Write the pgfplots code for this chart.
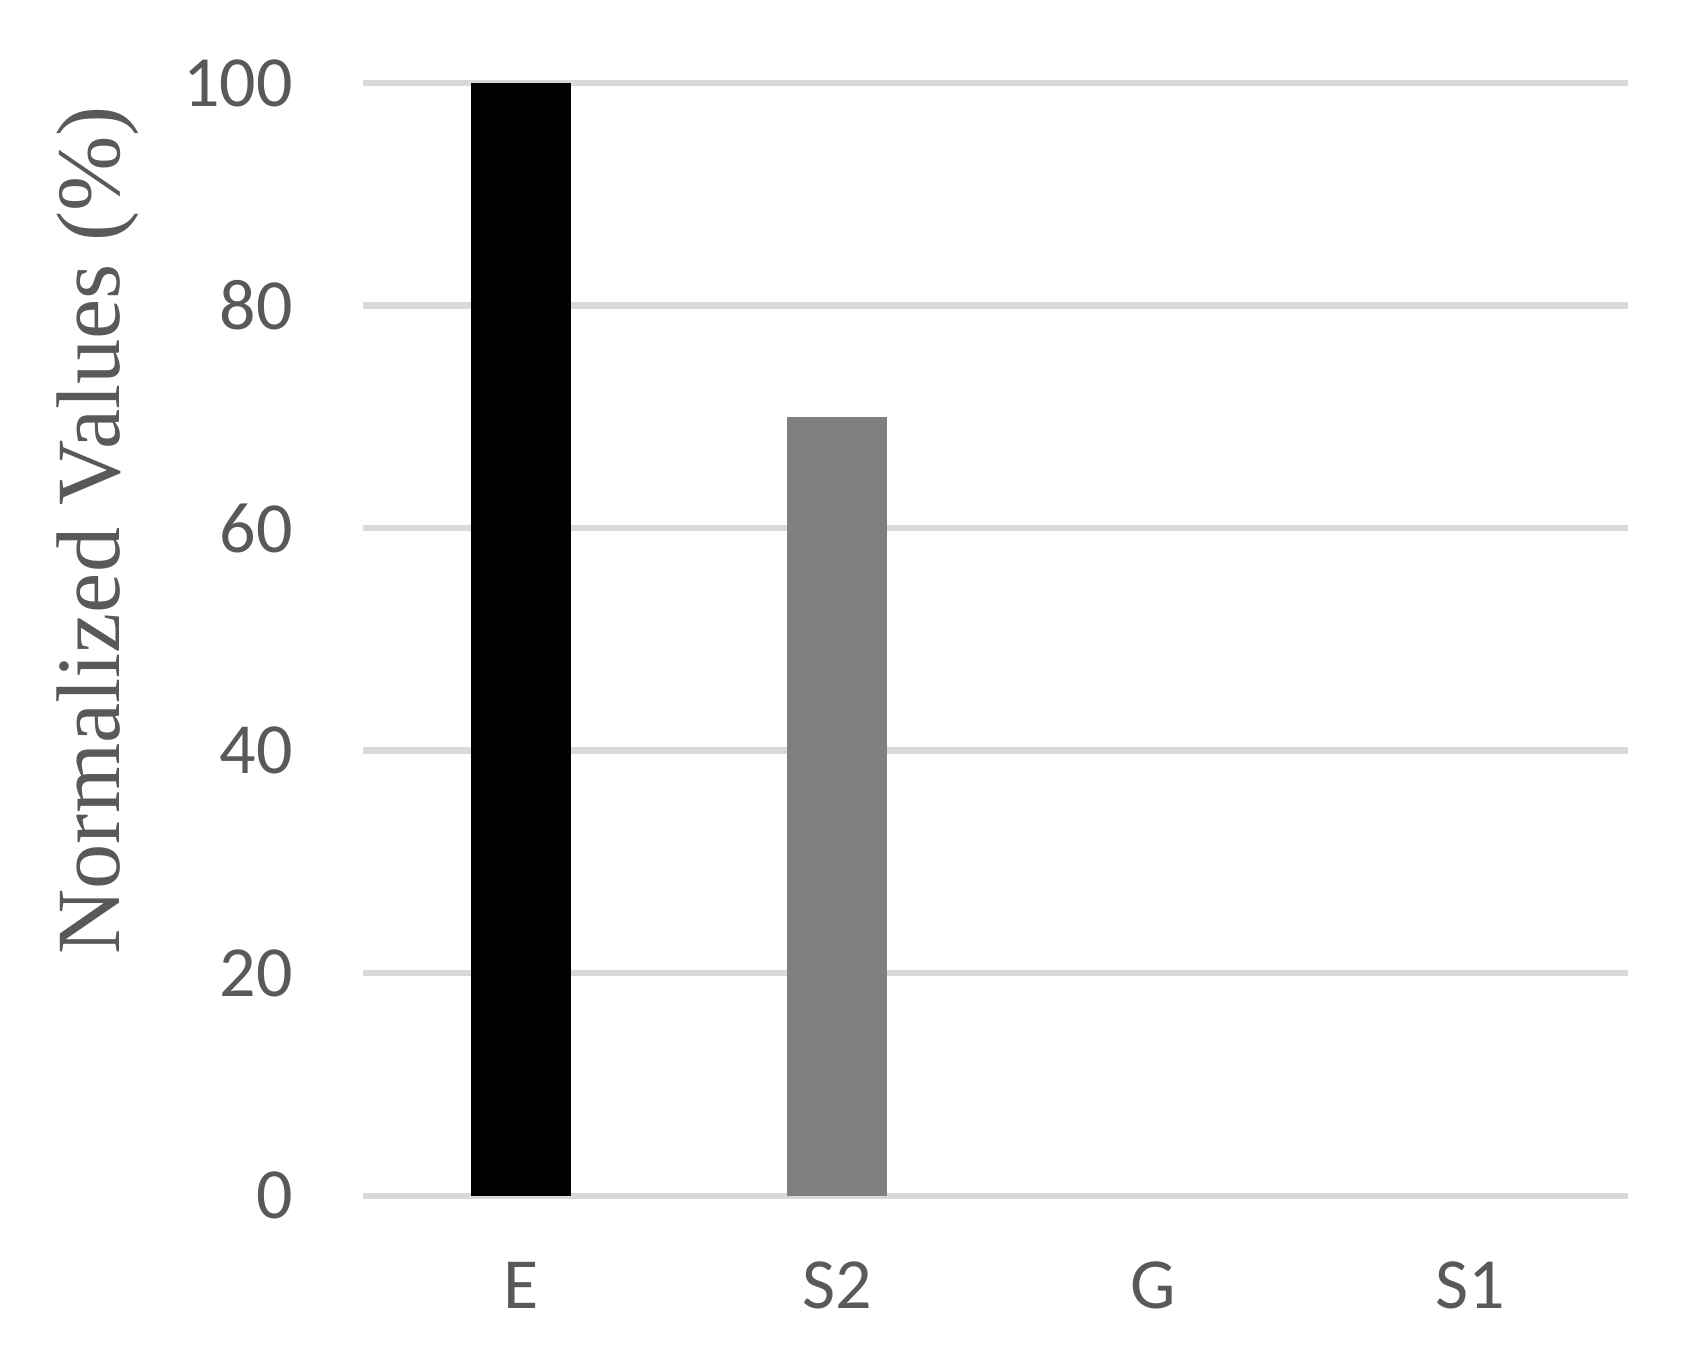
\documentclass[border=0pt]{standalone}
\usepackage{pgfplots}
\pgfplotsset{compat=1.18}
\usepackage{fontspec}
\setmainfont{Carlito}
\newfontfamily\labelfont{Liberation Serif}
\definecolor{txtgray}{HTML}{595959}
\definecolor{gridgray}{HTML}{D9D9D9}
\definecolor{barS}{HTML}{7F7F7F}

\begin{document}
\begin{tikzpicture}
\begin{axis}[
    name=ax,
    scale only axis,
    width=316.25pt,
    height=278.2pt,
    xmin=-0.5, xmax=3.5,
    ymin=0, ymax=100,
    xtick={0,1,2,3},
    xticklabels={E, S2, G, S1},
    ytick={0,20,40,60,80,100},
    axis line style={draw=none},
    major tick length=0pt,
    ymajorgrids,
    grid style={gridgray, line width=1.6pt},
    clip=false,
    tick label style={font=\fontsize{18}{20}\selectfont, text=txtgray},
    /pgf/number format/assume math mode=true,
    yticklabel style={xshift=-14pt},
    xticklabel style={yshift=-13pt},
    ylabel={Normalized Values (\%)},
    ylabel style={font=\labelfont\fontsize{22.6}{24}\selectfont, text=txtgray,
        at={(axis description cs:-0.2095,0.598)}, anchor=center},
    ybar, bar width=25pt,
]
\addplot[fill=black, draw=none, bar shift=0pt] coordinates {(0,100)};
\addplot[fill=barS, draw=none, bar shift=0pt] coordinates {(1,70)};
\end{axis}
\pgfresetboundingbox
\path ([xshift=-90.75pt,yshift=-39.5pt]ax.south west) rectangle ([xshift=18.5pt,yshift=20.75pt]ax.north east);
\end{tikzpicture}
\end{document}
